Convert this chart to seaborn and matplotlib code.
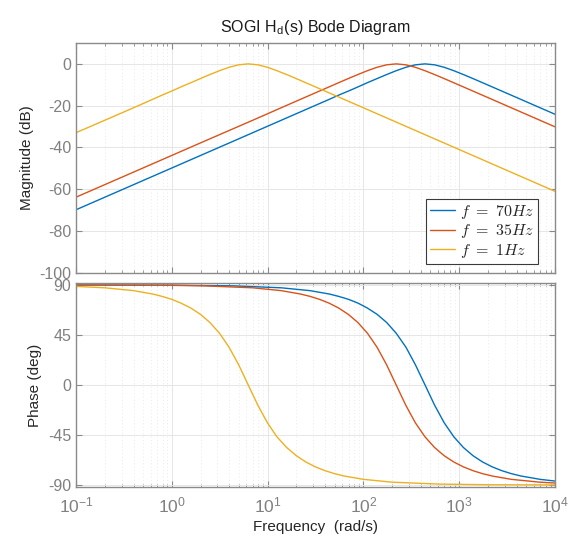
import numpy as np
import pandas as pd
import matplotlib
matplotlib.use('Agg')
import matplotlib.pyplot as plt
import seaborn as sns
from matplotlib.ticker import LogLocator, FixedLocator, NullFormatter

# values (rad/s, dB, deg)
freq_70 = [0.1, 1, 4.4, 13.9, 27.7, 44, 55, 70, 88, 110, 139, 175, 220, 278, 349, 440,
           554, 697, 878, 1105, 1391, 1751, 2204, 2775, 3494, 4398, 6971, 10000]
mag_70 = [-69.86, -49.86, -36.99, -26.99, -20.99, -16.99, -14.99, -12.99, -11.00, -9.01, -7.03,
          -5.10, -3.26, -1.63, -0.45, 0.00, -0.45, -1.63, -3.26, -5.10, -7.03, -9.01, -11.00,
          -12.99, -14.99, -16.99, -20.99, -24.12]
phase_70 = [89.98, 89.82, 89.19, 87.44, 84.88, 81.87, 79.75, 77.05, 73.62, 69.23, 63.57, 56.21,
            46.57, 34.00, 18.19, 0.00, -18.19, -34.00, -46.57, -56.21, -63.57, -69.23, -73.62,
            -77.05, -79.75, -81.87, -84.88, -86.43]

freq_35 = [0.1, 1, 2.2, 7.0, 13.9, 22.0, 27.7, 34.9, 43.9, 55.2, 69.5, 87.6, 110.2, 138.8, 174.7,
           219.9, 276.9, 348.5, 438.8, 552.4, 695.4, 875.5, 1102, 1388, 1747, 2199, 3485, 6954, 10000]
mag_35 = [-63.84, -43.84, -36.99, -26.99, -20.99, -16.99, -14.99, -12.99, -11.00, -9.01, -7.03,
          -5.10, -3.26, -1.63, -0.45, 0.00, -0.45, -1.63, -3.26, -5.10, -7.03, -9.01, -11.00,
          -12.99, -14.99, -16.99, -20.99, -26.99, -30.14]
phase_35 = [89.96, 89.63, 89.19, 87.44, 84.88, 81.87, 79.75, 77.05, 73.62, 69.23, 63.57, 56.21,
            46.57, 34.00, 18.19, 0.00, -18.19, -34.00, -46.57, -56.21, -63.57, -69.23, -73.62,
            -77.05, -79.75, -81.87, -84.88, -87.44, -88.22]

freq_1 = [0.1, 0.2, 0.4, 0.63, 0.79, 1.0, 1.25, 1.58, 1.99, 2.5, 3.15, 3.96, 4.99, 6.28, 7.91,
          9.96, 12.5, 15.8, 19.9, 25.0, 31.5, 39.6, 49.9, 62.8, 99.6, 198.7, 628.3, 1987, 10000]
mag_1 = [-32.95, -26.99, -20.99, -16.99, -14.99, -12.99, -11.00, -9.01, -7.03, -5.10, -3.26,
         -1.63, -0.45, 0.00, -0.45, -1.63, -3.26, -5.10, -7.03, -9.01, -11.00, -12.99, -14.99,
         -16.99, -20.99, -26.99, -36.99, -46.99, -61.03]
phase_1 = [88.71, 87.44, 84.88, 81.87, 79.75, 77.05, 73.62, 69.23, 63.57, 56.21, 46.57, 34.00,
           18.19, 0.00, -18.19, -34.00, -46.57, -56.21, -63.57, -69.23, -73.62, -77.05, -79.75,
           -81.87, -84.88, -87.44, -89.19, -89.74, -89.95]

labels = [r'$f\ =\ 70Hz$', r'$f\ =\ 35Hz$', r'$f\ =\ 1Hz$']
colors = ['#0072BD', '#D95319', '#EDB120']

frames = []
for lab, f, m, p in zip(labels, [freq_70, freq_35, freq_1], [mag_70, mag_35, mag_1],
                        [phase_70, phase_35, phase_1]):
    frames.append(pd.DataFrame({'freq': f, 'mag': m, 'phase': p, 'series': lab}))
df = pd.concat(frames, ignore_index=True)

sns.set_style('ticks')
plt.rcParams['font.family'] = ['Liberation Sans', 'DejaVu Sans']
plt.rcParams['mathtext.fontset'] = 'cm'
plt.rcParams['axes.unicode_minus'] = False

axis_grey = '#8a8a8a'
label_grey = '#808080'
text_dark = '#262626'

fig = plt.figure(figsize=(5.73, 5.45), dpi=100)
ax_mag = fig.add_axes([0.1326, 0.4996, 0.836, 0.4215])
ax_ph = fig.add_axes([0.1326, 0.107, 0.836, 0.3732])

pal = dict(zip(labels, colors))
sns.lineplot(data=df, x='freq', y='mag', hue='series', hue_order=labels, palette=pal,
             estimator=None, linewidth=1.0, ax=ax_mag, legend=False)
sns.lineplot(data=df, x='freq', y='phase', hue='series', hue_order=labels, palette=pal,
             estimator=None, linewidth=1.0, ax=ax_ph, legend=False)

xt = [0.1, 1, 10, 100, 1000, 10000]
for ax in (ax_mag, ax_ph):
    ax.set_xscale('log')
    ax.set_xlim(0.1, 10000)
    ax.xaxis.set_major_locator(FixedLocator(xt))
    ax.xaxis.set_minor_locator(LogLocator(base=10, subs=np.arange(2, 10), numticks=20))
    ax.xaxis.set_minor_formatter(NullFormatter())
    ax.grid(True, which='major', color='#e6e6e6', linestyle='-', linewidth=0.7)
    ax.grid(True, which='minor', axis='x', color='#e4e4e4', linestyle=(0, (1, 3)), linewidth=0.6)
    ax.set_axisbelow(True)
    ax.tick_params(which='both', direction='in', top=True, right=True, color=axis_grey,
                   labelcolor=label_grey, labelsize=11.5)
    ax.tick_params(which='major', length=4, width=0.8)
    ax.tick_params(which='minor', length=2.2, width=0.6)
    for sp in ax.spines.values():
        sp.set_color(axis_grey)
        sp.set_linewidth(1.0)

ax_mag.set_ylim(-100, 10)
ax_mag.set_yticks([0, -20, -40, -60, -80, -100])
ax_mag.set_xticklabels([])
ax_mag.set_xlabel('')
ax_mag.set_ylabel('Magnitude (dB)', fontsize=11, color=text_dark)
ax_mag.set_title(r'SOGI H$_\mathregular{d}$(s) Bode Diagram', fontsize=11.5, color='#1a1a1a', pad=8)

ax_ph.set_ylim(-91.5, 91.5)
ax_ph.set_yticks([90, 45, 0, -45, -90])
ax_ph.set_xticklabels([r'$\mathregular{10^{-1}}$', r'$\mathregular{10^{0}}$', r'$\mathregular{10^{1}}$',
                       r'$\mathregular{10^{2}}$', r'$\mathregular{10^{3}}$', r'$\mathregular{10^{4}}$'])
ax_ph.tick_params(axis='x', which='major', pad=6, labelsize=12.5)
ax_ph.set_ylabel('Phase (deg)', fontsize=11, color=text_dark)
ax_ph.set_xlabel('Frequency  (rad/s)', fontsize=11, color=text_dark, labelpad=4)

handles = ax_mag.get_lines()[:3]
leg = ax_mag.legend(handles, labels, loc='lower right', bbox_to_anchor=(0.9645, 0.038),
                    borderaxespad=0, fontsize=11.5, frameon=True, fancybox=False,
                    edgecolor='#3a3a3a', framealpha=1, handlelength=1.6, handletextpad=0.3,
                    borderpad=0.25, labelspacing=0.1)
leg.get_frame().set_linewidth(0.8)

fig.savefig('out.png', dpi=100)
